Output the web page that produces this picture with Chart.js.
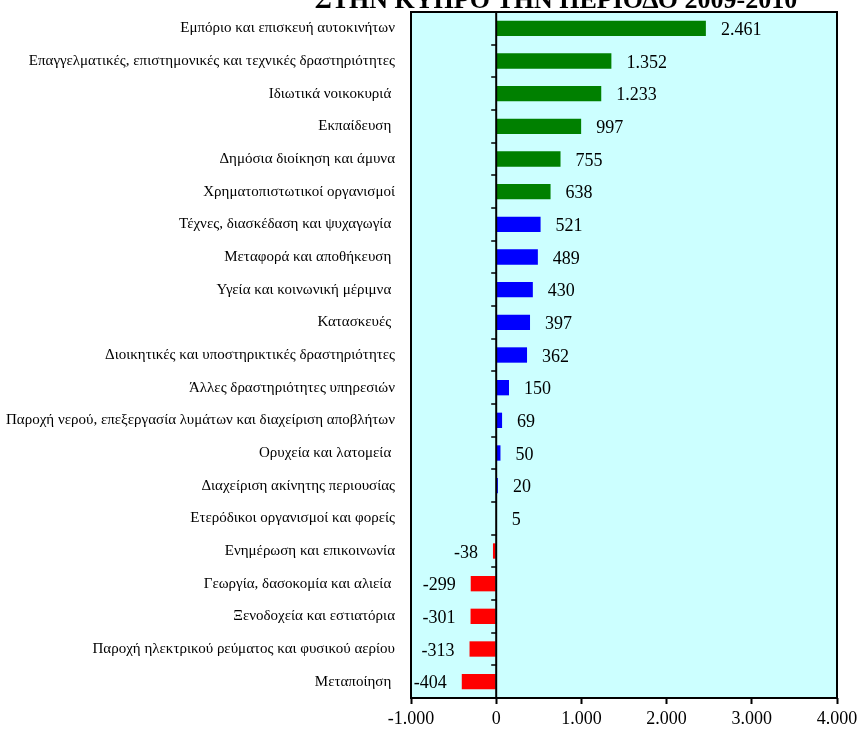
<!DOCTYPE html>
<html>
<head>
<meta charset="utf-8">
<script src="https://cdn.jsdelivr.net/npm/chart.js@4"></script>
<style>
  html, body { margin: 0; padding: 0; background: #fff; }
  #wrap { width: 865px; height: 747px; }
</style>
</head>
<body>
<div id="wrap"><canvas id="chart" width="865" height="747"></canvas></div>
<script>
const title = 'ΣΤΗΝ ΚΥΠΡΟ ΤΗΝ ΠΕΡΙΟΔΟ 2009-2010';

const sectors = [
  'Εμπόριο και επισκευή αυτοκινήτων',
  'Επαγγελματικές, επιστημονικές και τεχνικές δραστηριότητες',
  'Ιδιωτικά νοικοκυριά ',
  'Εκπαίδευση ',
  'Δημόσια διοίκηση και άμυνα',
  'Χρηματοπιστωτικοί οργανισμοί',
  'Τέχνες, διασκέδαση και ψυχαγωγία ',
  'Μεταφορά και αποθήκευση ',
  'Υγεία και κοινωνική μέριμνα ',
  'Κατασκευές ',
  'Διοικητικές και υποστηρικτικές δραστηριότητες',
  'Άλλες δραστηριότητες υπηρεσιών',
  'Παροχή νερού, επεξεργασία λυμάτων και διαχείριση αποβλήτων',
  'Ορυχεία και λατομεία ',
  'Διαχείριση ακίνητης περιουσίας',
  'Ετερόδικοι οργανισμοί και φορείς',
  'Ενημέρωση και επικοινωνία',
  'Γεωργία, δασοκομία και αλιεία ',
  'Ξενοδοχεία και εστιατόρια',
  'Παροχή ηλεκτρικού ρεύματος και φυσικού αερίου',
  'Μεταποίηση '
];

const change = [2461, 1352, 1233, 997, 755, 638, 521, 489, 430, 397, 362, 150, 69, 50, 20, 5, -38, -299, -301, -313, -404];

const xTicks = [-1000, 0, 1000, 2000, 3000, 4000];

const GREEN = '#008000', BLUE = '#0000ff', RED = '#ff0000';
const barColors = change.map((v, i) => v < 0 ? RED : (i < 6 ? GREEN : BLUE));

const fmt = v => {
  const s = Math.abs(v).toString().replace(/\B(?=(\d{3})+(?!\d))/g, '.');
  return (v < 0 ? '-' : '') + s;
};

const SERIF = '"Liberation Serif", "DejaVu Serif", serif';

// cyan plot background + black frame
const frame = {
  id: 'frame',
  beforeDraw(chart) {
    const { ctx, chartArea: a } = chart;
    ctx.save();
    ctx.fillStyle = '#ccffff';
    ctx.fillRect(a.left, a.top, a.right - a.left, a.bottom - a.top);
    ctx.restore();
  },
  afterDatasetsDraw(chart) {
    const { ctx, chartArea: a, scales } = chart;
    ctx.save();
    ctx.strokeStyle = '#000';
    ctx.lineWidth = 2;
    ctx.strokeRect(a.left, a.top, a.right - a.left, a.bottom - a.top);
    // zero line and its category ticks
    const x0 = scales.x.getPixelForValue(0);
    ctx.beginPath();
    ctx.moveTo(x0, a.top);
    ctx.lineTo(x0, a.bottom);
    ctx.stroke();
    const step = (a.bottom - a.top) / sectors.length;
    ctx.lineWidth = 1.5;
    for (let i = 1; i < sectors.length; i++) {
      const y = Math.round(a.top + step * i);
      ctx.beginPath();
      ctx.moveTo(x0 - 5, y);
      ctx.lineTo(x0, y);
      ctx.stroke();
    }
    // value labels
    ctx.fillStyle = '#000';
    ctx.font = '18px ' + SERIF;
    ctx.textBaseline = 'middle';
    const meta = chart.getDatasetMeta(0);
    meta.data.forEach((bar, i) => {
      const v = change[i];
      if (v >= 0) {
        ctx.textAlign = 'left';
        ctx.fillText(fmt(v), bar.x + 15, bar.y + 2);
      } else {
        ctx.textAlign = 'right';
        ctx.fillText(fmt(v), bar.x - 15, bar.y + 2);
      }
    });
    // cut-off title
    ctx.font = 'bold 26px ' + SERIF;
    ctx.textAlign = 'center';
    ctx.textBaseline = 'alphabetic';
    ctx.fillText(title, 556, 8);
    ctx.restore();
  }
};

new Chart(document.getElementById('chart'), {
  type: 'bar',
  data: {
    labels: sectors,
    datasets: [{
      data: change,
      backgroundColor: barColors,
      borderWidth: 0,
      barPercentage: 0.47,
      categoryPercentage: 1
    }]
  },
  options: {
    indexAxis: 'y',
    responsive: false,
    animation: false,
    layout: { padding: { top: 12, right: 28, left: 0, bottom: 0 } },
    plugins: {
      legend: { display: false },
      tooltip: { enabled: false }
    },
    scales: {
      x: {
        min: -1000,
        max: 4000,
        afterBuildTicks: s => { s.ticks = xTicks.map(v => ({ value: v })); },
        afterFit: s => { s.height = 49; },
        grid: {
          color: 'rgba(0,0,0,0)',
          tickColor: '#000',
          tickLength: 6,
          tickWidth: 2
        },
        border: { display: false },
        ticks: {
          color: '#000',
          font: { family: SERIF, size: 18 },
          padding: 4,
          callback: v => fmt(v)
        }
      },
      y: {
        afterFit: s => {
          s.width = 411;
          s.paddingTop = 0;
          s.paddingBottom = 0;
        },
        grid: { display: false, drawTicks: false },
        border: { display: false },
        ticks: {
          color: '#000',
          font: { family: SERIF, size: 15 },
          padding: 16,
          autoSkip: false
        }
      }
    }
  },
  plugins: [frame]
});
</script>
</body>
</html>
